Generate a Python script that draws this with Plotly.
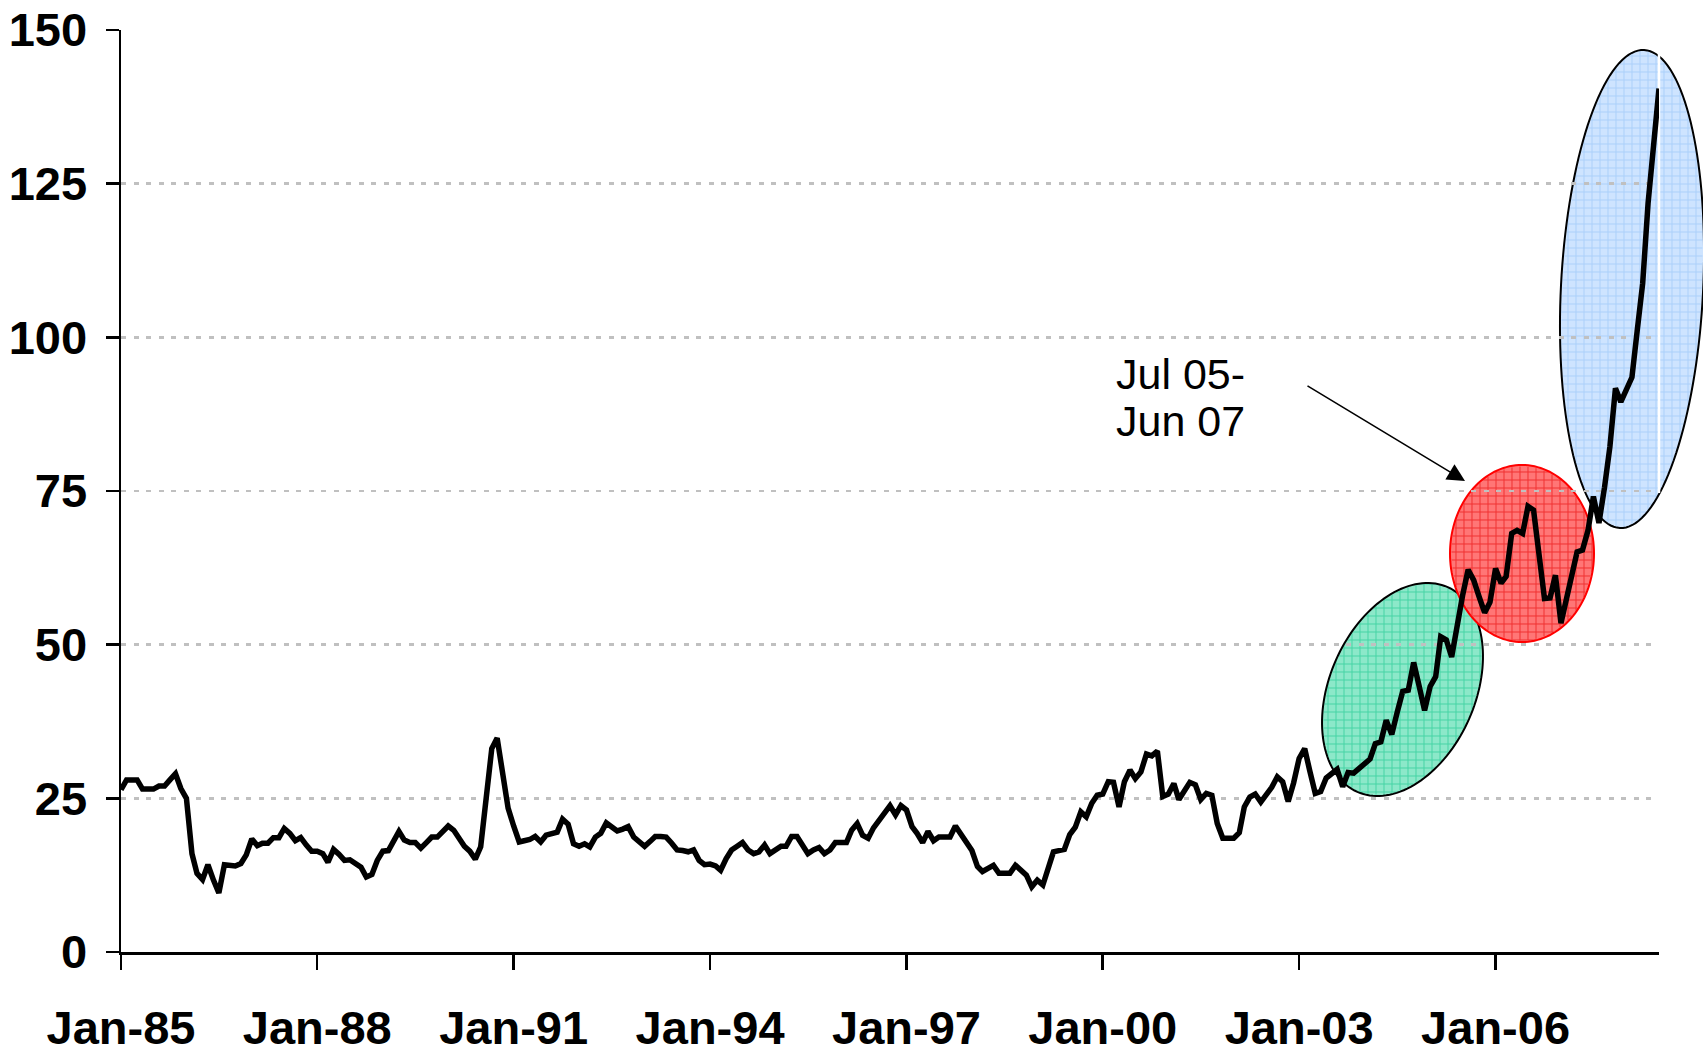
import numpy as np
import pandas as pd
import plotly.graph_objects as go

# ---------------- data (monthly, Jan-85 .. Jul-08) ----------------
prices_1985_1989 = [26.4, 28.0, 28.0, 28.0, 26.5, 26.5, 26.5, 27.0, 27.0, 28.0, 29.0, 26.6,
                    25.0, 16.0, 12.8, 11.8, 14.2, 11.7, 9.6, 14.2, 14.1, 14.0, 14.4, 15.8,
                    18.4, 17.3, 17.7, 17.7, 18.6, 18.6, 20.1, 19.3, 18.1, 18.6, 17.4, 16.4,
                    16.4, 16.0, 14.6, 16.7, 15.9, 14.9, 15.0, 14.5, 13.8, 12.2, 12.6, 14.9,
                    16.4, 16.5, 18.2, 19.6, 18.2, 17.8, 17.8, 16.9, 17.8, 18.7, 18.7, 19.6]
prices_1990_1994 = [20.5, 19.8, 18.5, 17.2, 16.4, 15.1, 17.1, 24.7, 33.1, 34.8, 29.1, 23.4,
                    20.5, 17.9, 18.1, 18.3, 18.8, 17.9, 19.0, 19.3, 19.5, 21.6, 20.8, 17.6,
                    17.2, 17.6, 17.1, 18.7, 19.3, 21.0, 20.4, 19.7, 20.0, 20.4, 18.7, 18.0,
                    17.2, 18.0, 18.8, 18.8, 18.7, 17.7, 16.6, 16.5, 16.3, 16.6, 14.9, 14.2,
                    14.3, 14.0, 13.3, 15.2, 16.6, 17.2, 17.8, 16.6, 16.0, 16.3, 17.4, 16.0]
prices_1995_1999 = [16.5, 17.2, 17.2, 18.8, 18.8, 17.4, 16.0, 16.6, 17.0, 16.0, 16.6, 17.8,
                    17.8, 17.8, 19.8, 20.9, 19.0, 18.5, 20.2, 21.5, 22.6, 23.8, 22.3, 23.8,
                    23.1, 20.4, 19.3, 17.8, 19.6, 18.1, 18.7, 18.7, 18.7, 20.5, 19.2, 17.8,
                    16.5, 13.9, 13.1, 13.6, 14.1, 12.8, 12.8, 12.8, 14.1, 13.2, 12.5, 10.6,
                    11.7, 10.9, 13.5, 16.3, 16.5, 16.7, 19.1, 20.3, 22.8, 22.0, 24.2, 25.5]
prices_2000_2004 = [25.7, 27.7, 27.6, 23.6, 27.7, 29.6, 28.2, 29.3, 32.2, 31.9, 32.7, 25.3,
                    25.7, 27.4, 24.8, 26.4, 27.6, 27.2, 24.8, 25.8, 25.5, 20.9, 18.5, 18.5,
                    18.5, 19.4, 23.6, 25.2, 25.7, 24.4, 25.6, 26.8, 28.5, 27.7, 24.5, 27.5,
                    31.5, 33.1, 29.5, 25.8, 26.1, 28.3, 29.0, 29.7, 26.9, 29.2, 29.1, 29.8,
                    30.4, 31.4, 33.9, 34.2, 37.7, 35.4, 39.0, 42.4, 42.6, 47.1, 43.2, 39.3]
prices_2005_2008 = [43.2, 44.8, 51.3, 50.8, 48.0, 53.7, 58.0, 62.2, 60.5, 57.8, 55.2, 56.9,
                    62.4, 60.0, 61.1, 68.1, 68.6, 68.1, 72.5, 71.9, 65.4, 57.5, 57.6, 61.3,
                    53.5, 57.3, 60.5, 65.1, 65.4, 68.6, 74.1, 69.8, 75.6, 82.2, 91.7, 89.5,
                    91.5, 93.5, 101.0, 108.8, 121.8, 131.0, 140.5]

start_month = "1985-01-01"
tick_years = [1985, 1988, 1991, 1994, 1997, 2000, 2003, 2006]
tick_labels = ["Jan-85", "Jan-88", "Jan-91", "Jan-94", "Jan-97", "Jan-00", "Jan-03", "Jan-06"]
y_ticks = [0, 25, 50, 75, 100, 125, 150]
note_lines = ["Jul 05-", "Jun 07"]

prices = prices_1985_1989 + prices_1990_1994 + prices_1995_1999 + prices_2000_2004 + prices_2005_2008
months = pd.date_range(start_month, periods=len(prices), freq="MS")
tick_dates = [f"{y}-01-01" for y in tick_years]

# ---------------- geometry (page pixels) ----------------
W, H = 1703, 1057
PL, PR, PT, PB = 121, 1659, 30, 952


def to_paper(px, py):
    return (px - PL) / (PR - PL), (PB - py) / (PB - PT)


def ellipse_path(cx, cy, a, b, phi_deg, n=144):
    phi = np.radians(phi_deg)
    t = np.linspace(0, 2 * np.pi, n, endpoint=False)
    xs = cx + a * np.cos(t) * np.cos(phi) + b * np.sin(t) * np.sin(phi)
    ys = cy - a * np.cos(t) * np.sin(phi) + b * np.sin(t) * np.cos(phi)
    pts = [to_paper(x, y) for x, y in zip(xs, ys)]
    return "M " + " L ".join(f"{x:.5f},{y:.5f}" for x, y in pts) + " Z"


def grid_path(cx, cy, a, b, phi_deg, step=8, shrink=1.5):
    phi = np.radians(phi_deg)
    c, s = np.cos(phi), np.sin(phi)
    k = 1 / b ** 2 - 1 / a ** 2
    segs = []
    ext = a + 2
    for gx in np.arange(np.floor((cx - ext) / step) * step, cx + ext, step):
        u = gx - cx
        A = s * s / a ** 2 + c * c / b ** 2
        B = 2 * u * c * s * k
        C = u * u * (c * c / a ** 2 + s * s / b ** 2) - 1
        D = B * B - 4 * A * C
        if D <= 0:
            continue
        v1 = (-B - np.sqrt(D)) / (2 * A) + shrink
        v2 = (-B + np.sqrt(D)) / (2 * A) - shrink
        if v2 <= v1:
            continue
        p1 = to_paper(gx, cy + v1)
        p2 = to_paper(gx, cy + v2)
        segs.append(f"M {p1[0]:.5f},{p1[1]:.5f} L {p2[0]:.5f},{p2[1]:.5f}")
    for gy in np.arange(np.floor((cy - ext) / step) * step, cy + ext, step):
        v = gy - cy
        A = c * c / a ** 2 + s * s / b ** 2
        B = 2 * v * c * s * k
        C = v * v * (s * s / a ** 2 + c * c / b ** 2) - 1
        D = B * B - 4 * A * C
        if D <= 0:
            continue
        u1 = (-B - np.sqrt(D)) / (2 * A) + shrink
        u2 = (-B + np.sqrt(D)) / (2 * A) - shrink
        if u2 <= u1:
            continue
        p1 = to_paper(cx + u1, gy)
        p2 = to_paper(cx + u2, gy)
        segs.append(f"M {p1[0]:.5f},{p1[1]:.5f} L {p2[0]:.5f},{p2[1]:.5f}")
    return " ".join(segs)


# highlight ellipses (page pixels): cx, cy, a, b, angle, fill, grid, outline
ellipses = [
    (1402.5, 689.5, 111.9, 72.8, 66.2, "rgb(140,232,201)", "rgb(70,212,165)", "black"),
    (1522.0, 553.5, 88.5, 72.0, 90.0, "rgb(255,118,118)", "rgb(240,50,50)", "rgb(255,0,0)"),
    (1632.0, 289.0, 239.3, 71.1, 87.1, "rgb(206,228,255)", "rgb(172,208,250)", "black"),
]

shapes = []
for cx, cy, a, b, ang, fill, grid, edge in ellipses:
    shapes.append(dict(type="path", xref="paper", yref="paper", layer="below",
                       path=ellipse_path(cx, cy, a, b, ang), fillcolor=fill,
                       line=dict(width=0)))
    shapes.append(dict(type="path", xref="paper", yref="paper", layer="below",
                       path=grid_path(cx, cy, a, b, ang), line=dict(color=grid, width=1)))
    shapes.append(dict(type="path", xref="paper", yref="paper", layer="below",
                       path=ellipse_path(cx, cy, a, b, ang),
                       line=dict(color=edge, width=2)))

wx0, wy0 = to_paper(1659, 52)
wx1, wy1 = to_paper(1659, 493)
shapes.append(dict(type="line", xref="paper", yref="paper", layer="below",
                   x0=wx0, y0=wy0, x1=wx1, y1=wy1, line=dict(color="white", width=2.5)))

fig = go.Figure()
fig.add_trace(go.Scatter(x=months, y=prices, mode="lines",
                         line=dict(color="black", width=5.5), showlegend=False,
                         hoverinfo="skip"))

AXIS_FONT = dict(family="Liberation Sans, Arial, sans-serif",
                 size=47, color="black", weight="bold")

fig.update_xaxes(type="date", range=[str(months[0].date()), str(months[-1].date())],
                 tickvals=tick_dates, ticktext=tick_labels,
                 showline=True, linecolor="black", linewidth=2.5,
                 ticks="outside", ticklen=15, tickwidth=2.5, tickcolor="black",
                 showgrid=False, zeroline=False, tickfont=AXIS_FONT,
                 ticklabelstandoff=18, automargin=False, ticklabeloverflow="allow")
fig.update_yaxes(range=[0, 150], tickvals=y_ticks, ticktext=[str(v) for v in y_ticks],
                 showline=True, linecolor="black", linewidth=2.5,
                 ticks="outside", ticklen=13, tickwidth=2.5, tickcolor="black",
                 showgrid=True, gridcolor="#C0C0C0", gridwidth=2.5, griddash="5px,7.5px",
                 zeroline=False, tickfont=AXIS_FONT, ticklabelstandoff=9,
                 automargin=False, ticklabeloverflow="allow")

NOTE_FONT = dict(family="Liberation Sans, Arial, sans-serif", size=43, color="black")
annotations = []
for line_text, cy in zip(note_lines, [374, 421]):
    nx, ny = to_paper(1114, cy)
    annotations.append(dict(xref="paper", yref="paper", x=nx, y=ny, xanchor="left",
                            yanchor="middle", text=line_text, showarrow=False,
                            font=NOTE_FONT))
ax_tip, ay_tip = to_paper(1465, 481)
annotations.append(dict(xref="paper", yref="paper", x=ax_tip, y=ay_tip, text="",
                        showarrow=True, ax=1306 - 1465, ay=385 - 481, arrowhead=2,
                        arrowsize=2.2, arrowwidth=1.6, arrowcolor="black", standoff=0))

fig.update_layout(width=W, height=H,
                  margin=dict(l=PL, r=W - PR, t=PT, b=H - PB, pad=0, autoexpand=False),
                  paper_bgcolor="white", plot_bgcolor="rgba(0,0,0,0)",
                  shapes=shapes, annotations=annotations, showlegend=False,
                  hovermode=False)

fig.write_html("out.html",
               config={"displayModeBar": False, "staticPlot": True},
               post_script="document.body.style.margin='0px';"
                           "document.body.style.overflow='hidden';")
